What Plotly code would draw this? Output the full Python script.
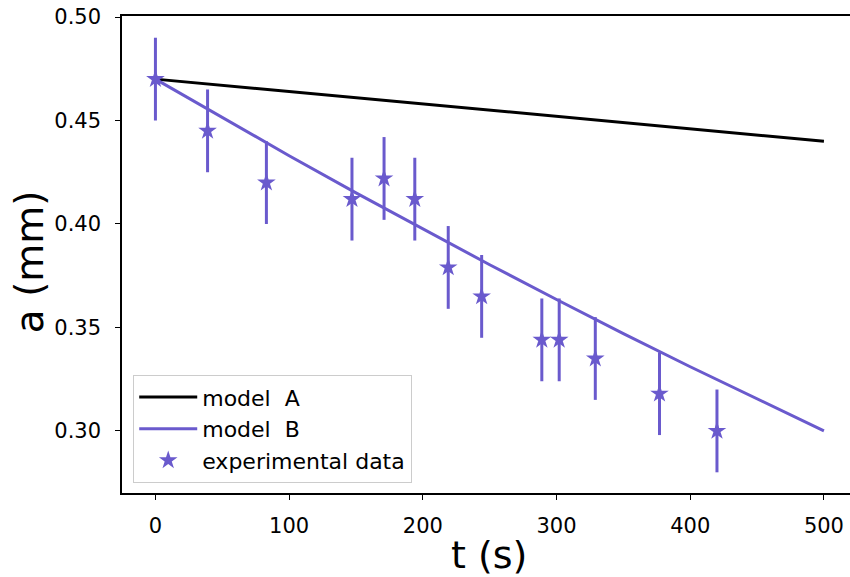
import plotly.graph_objects as go

# experimental data
t_data = [0, 39, 83, 147, 171, 194, 219, 244, 289, 302, 329, 377, 420]
a_data = [0.470, 0.445, 0.420, 0.412, 0.422, 0.412, 0.379, 0.365, 0.344, 0.344, 0.335, 0.318, 0.300]
a_err = [0.02] * len(t_data)

# model curves
t_model = [0, 50, 100, 150, 200, 250, 300, 350, 400, 450, 500]
a_model_A = [0.470, 0.467, 0.464, 0.461, 0.458, 0.455, 0.452, 0.449, 0.446, 0.443, 0.440]
a_model_B = [0.470, 0.4513, 0.433, 0.415, 0.3975, 0.3803, 0.3635, 0.347, 0.331, 0.3153, 0.300]

x_ticks = [0, 100, 200, 300, 400, 500]
y_ticks = [0.30, 0.35, 0.40, 0.45, 0.50]

PURPLE = "#6A5ACD"
FONT = "DejaVu Sans"

fig = go.Figure()
fig.add_trace(go.Scatter(x=t_model, y=a_model_A, mode="lines", name="model\u00a0\u00a0A",
                         line=dict(color="black", width=3)))
fig.add_trace(go.Scatter(x=t_model, y=a_model_B, mode="lines", name="model\u00a0\u00a0B",
                         line=dict(color=PURPLE, width=3)))
fig.add_trace(go.Scatter(x=t_data, y=a_data, mode="markers", name="experimental data",
                         marker=dict(symbol="star", size=14, color=PURPLE),
                         error_y=dict(type="data", array=a_err, color=PURPLE, thickness=3, width=0)))

fig.update_layout(
    width=850, height=577,
    margin=dict(l=122, r=0, t=16, b=84, autoexpand=False),
    paper_bgcolor="white", plot_bgcolor="white",
    font=dict(family=FONT, size=21, color="black"),
    showlegend=True,
    legend=dict(x=0.015, y=0.021, xanchor="left", yanchor="bottom",
                bgcolor="white", bordercolor="#cccccc", borderwidth=1.3,
                font=dict(family=FONT, size=22), tracegroupgap=0, itemwidth=58),
    annotations=[
        dict(text="t (s)", xref="paper", yref="paper", x=0.504, y=-0.13,
             xanchor="center", yanchor="middle", showarrow=False,
             font=dict(family=FONT, size=38)),
        dict(text="a (mm)", xref="paper", yref="paper", x=-0.1277, y=0.484,
             xanchor="center", yanchor="middle", showarrow=False, textangle=-90,
             font=dict(family=FONT, size=39)),
    ],
)
fig.update_xaxes(
    range=[-25, 519.5], tickvals=x_ticks, ticktext=[str(v) for v in x_ticks],
    showgrid=False, zeroline=False, showline=True, linecolor="black", linewidth=1.5,
    mirror=True, ticks="outside", ticklen=5, tickwidth=1.3, tickcolor="black",
    ticklabelstandoff=8, automargin=False,
)
fig.update_yaxes(
    range=[0.27, 0.5005], tickvals=y_ticks, ticktext=["%.2f" % v for v in y_ticks],
    showgrid=False, zeroline=False, showline=True, linecolor="black", linewidth=1.5,
    ticks="outside", ticklen=5, tickwidth=1.3, tickcolor="black",
    ticklabelstandoff=10, automargin=False,
)

fig.write_html("out.html", config={"displayModeBar": False},
               post_script="document.body.style.margin='0';document.body.style.overflow='hidden';")
